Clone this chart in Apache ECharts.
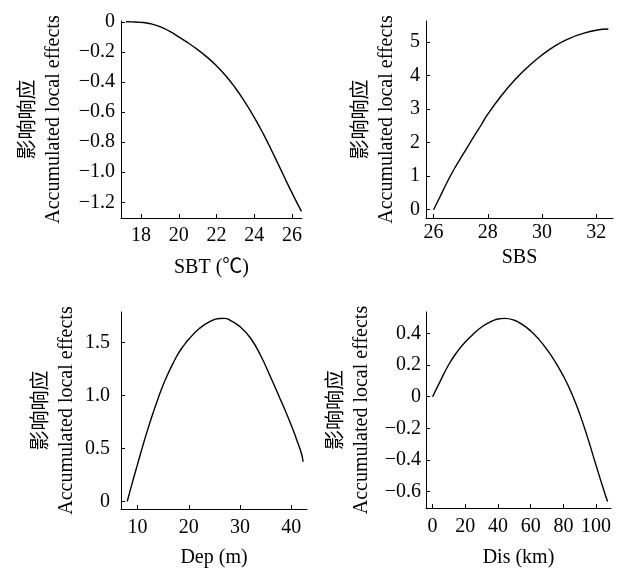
<!DOCTYPE html>
<html><head><meta charset="utf-8">
<script src="https://cdn.jsdelivr.net/npm/echarts@6/dist/echarts.min.js"></script>
<style>html,body{margin:0;padding:0;background:#fff}#c{width:621px;height:568px}</style>
</head><body><div id="c"></div>
<script>
// Panel 1: SBT
const sbtX = [17.2, 17.5, 18, 18.5, 19, 19.5, 20, 20.5, 21, 21.5, 22, 22.5, 23, 23.5, 24, 24.5, 25, 25.5, 26, 26.5];
const sbtY = [0, -0.001, -0.004, -0.013, -0.032, -0.063, -0.1, -0.141, -0.185, -0.235, -0.293, -0.36, -0.44, -0.532, -0.635, -0.75, -0.876, -1.007, -1.137, -1.26];
// Panel 2: SBS
const sbsX = [26, 26.25, 26.5, 26.75, 27, 27.25, 27.5, 27.75, 28, 28.5, 29, 29.5, 30, 30.5, 31, 31.5, 32, 32.45];
const sbsY = [0, 0.41, 0.82, 1.2, 1.54, 1.87, 2.2, 2.52, 2.85, 3.4, 3.875, 4.275, 4.615, 4.895, 5.105, 5.255, 5.355, 5.39];
// Panel 3: Dep
const depX = [8, 9, 10, 11, 12, 13, 14, 15, 16, 17, 18, 19, 20, 22, 24, 26, 27, 28, 30, 32, 34, 36, 38, 40, 41, 42, 42.3];
const depY = [0, 0.18, 0.35, 0.52, 0.68, 0.83, 0.97, 1.1, 1.21, 1.31, 1.40, 1.47, 1.53, 1.63, 1.695, 1.727, 1.728, 1.712, 1.65, 1.545, 1.38, 1.17, 0.95, 0.72, 0.59, 0.45, 0.375];
// Panel 4: Dis
const disX = [0, 5, 10, 15, 20, 25, 30, 35, 40, 44, 50, 55, 60, 65, 70, 75, 80, 85, 90, 95, 100, 105, 107];
const disY = [0, 0.105, 0.205, 0.283, 0.345, 0.397, 0.44, 0.471, 0.491, 0.495, 0.483, 0.455, 0.415, 0.362, 0.297, 0.22, 0.13, 0.022, -0.11, -0.265, -0.435, -0.6, -0.662];

const xNames = ['SBT (℃)', 'SBS', 'Dep (m)', 'Dis (km)'];
const yNameCn = '影响响应';
const yNameEn = 'Accumulated local effects';

const FONT = '"Liberation Serif", "Noto Sans CJK SC", serif';
const fmtSign = s => s.replace('-', '\u2212');
const fmtInt = v => Math.abs(v) < 1e-9 ? '0' : fmtSign(String(Math.round(v)));
const fmt1 = v => Math.abs(v) < 1e-9 ? '0' : fmtSign(v.toFixed(1));

const panels = [
  {x: sbtX, y: sbtY, grid: {left: 121, top: 21, width: 181, height: 197},
   xr: [16.94, 26.53, 2], yr: [-1.304, 0.005, 0.2], yf: fmt1,
   xm: 8, xg: 40, ym: 6, yg: 54},
  {x: sbsX, y: sbsY, grid: {left: 426, top: 21, width: 187, height: 197},
   xr: [25.72, 32.62, 2], yr: [-0.247, 5.63, 1], yf: fmtInt,
   xm: 5, xg: 30, ym: 6, yg: 26},
  {x: depX, y: depY, grid: {left: 121, top: 312, width: 186, height: 197},
   xr: [6.78, 43.07, 10], yr: [-0.071, 1.788, 0.5], yf: fmt1,
   xm: 9, xg: 39, ym: 11, yg: 41},
  {x: disX, y: disY, grid: {left: 426, top: 312, width: 185, height: 196},
   xr: [-4.03, 109.1, 20], yr: [-0.703, 0.535, 0.2], yf: fmt1,
   xm: 9, xg: 40, ym: 5, yg: 51}
];

const axisCommon = {
  type: 'value',
  axisLine: {show: true, onZero: false, lineStyle: {color: '#000', width: 1}},
  axisTick: {show: true, inside: true, length: 4, lineStyle: {color: '#000', width: 1}},
  splitLine: {show: false},
  nameLocation: 'middle'
};

const richName = {
  cn: {fontFamily: '"Noto Sans CJK SC"', fontSize: 20, color: '#000', lineHeight: 27},
  en: {fontFamily: '"Liberation Serif"', fontSize: 20, color: '#000', lineHeight: 27}
};

const option = {
  backgroundColor: '#fff',
  animation: false,
  grid: panels.map(p => Object.assign({containLabel: false, outerBoundsMode: 'none'}, p.grid)),
  xAxis: panels.map((p, i) => Object.assign({}, axisCommon, {
    gridIndex: i, min: p.xr[0], max: p.xr[1], minInterval: p.xr[2], maxInterval: p.xr[2],
    name: xNames[i], nameGap: p.xg,
    nameTextStyle: {fontFamily: FONT, fontSize: 20, color: '#000'},
    axisLabel: {fontFamily: FONT, fontSize: 20, color: '#000', margin: p.xm,
      showMinLabel: false, showMaxLabel: false, formatter: fmtInt}
  })),
  yAxis: panels.map((p, i) => Object.assign({}, axisCommon, {
    gridIndex: i, min: p.yr[0], max: p.yr[1], minInterval: p.yr[2], maxInterval: p.yr[2],
    name: '{cn|' + yNameCn + '}\n{en|' + yNameEn + '}', nameGap: p.yg,
    nameTextStyle: {rich: richName},
    axisLabel: {fontFamily: FONT, fontSize: 20, color: '#000', margin: p.ym,
      showMinLabel: false, showMaxLabel: false, formatter: p.yf}
  })),
  series: panels.map((p, i) => ({
    type: 'line', xAxisIndex: i, yAxisIndex: i,
    data: p.x.map((v, k) => [v, p.y[k]]),
    showSymbol: false, smooth: 0.5,
    lineStyle: {color: '#000', width: 1.4}
  }))
};

const chart = echarts.init(document.getElementById('c'), null, {renderer: 'canvas'});
chart.setOption(option);
</script>
</body></html>
